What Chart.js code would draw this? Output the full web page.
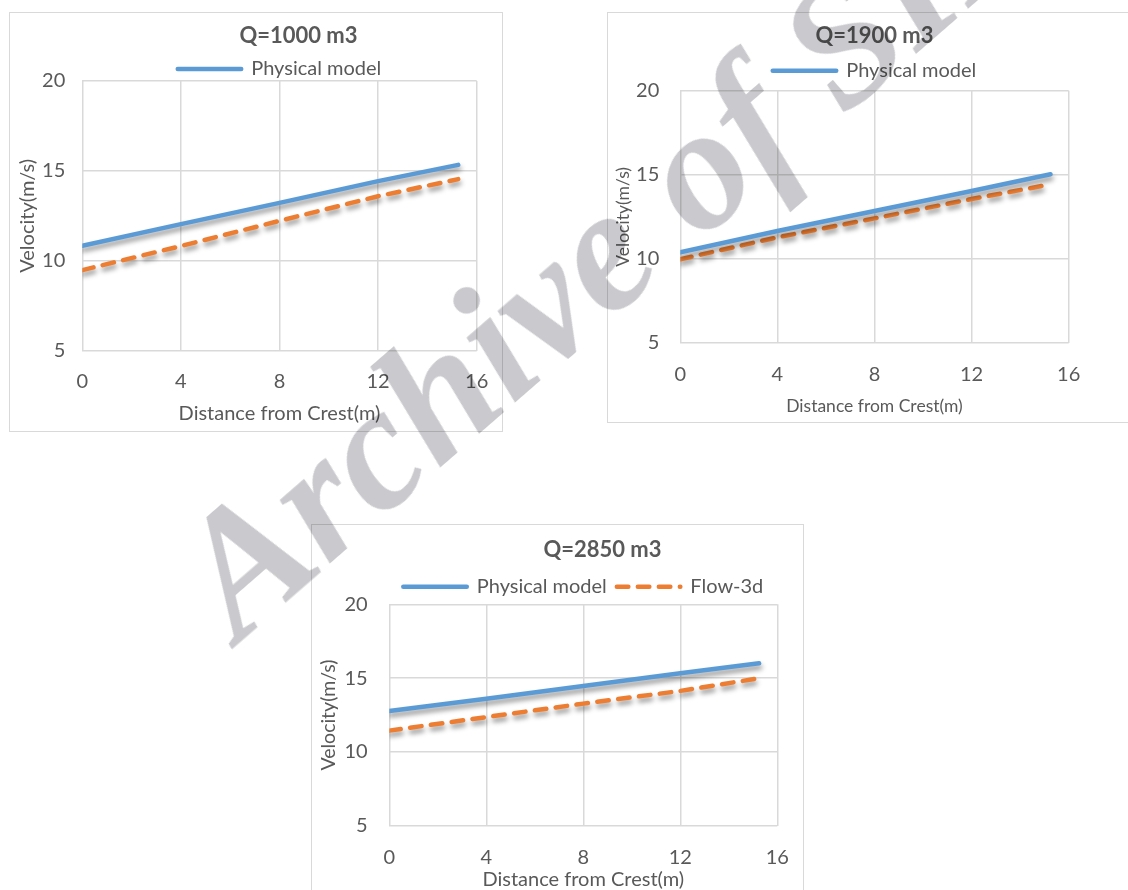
<!DOCTYPE html>
<html>
<head>
<meta charset="utf-8">
<script src="https://cdn.jsdelivr.net/npm/chart.js@4.4.1/dist/chart.umd.min.js"></script>
<style>
  html, body { margin: 0; padding: 0; background: #fff; }
  body { width: 1128px; height: 890px; overflow: hidden; position: relative; }
  .frame { position: absolute; border: 1px solid #d9d9d9; box-sizing: border-box; }
  .holder { position: absolute; }
  .holder canvas { display: block; }
  .mark {
    position: absolute; left: 142px; top: 532px;
    font: italic bold 176px "Liberation Serif", "DejaVu Serif", serif;
    line-height: 1; white-space: nowrap; color: #cacace;
    transform-origin: 0 0; transform: rotate(-41deg);
    mix-blend-mode: multiply; pointer-events: none;
  }
</style>
</head>
<body>
<div class="frame" style="left:9px;top:12px;width:494px;height:420px"></div>
<div class="frame" style="left:607px;top:12px;width:535px;height:411px"></div>
<div class="frame" style="left:311px;top:524px;width:493px;height:380px"></div>
<div class="holder" style="left:9px;top:12px"><canvas id="c1" width="579" height="420"></canvas></div>
<div class="holder" style="left:607px;top:12px"><canvas id="c2" width="535" height="411"></canvas></div>
<div class="holder" style="left:311px;top:524px"><canvas id="c3" width="583" height="380"></canvas></div>
<div class="mark">Archive of SID</div>
<script>
// Velocity along the chute, distance from the crest in metres
const distance = [0, 4, 8, 12, 15.25];

const physical1000 = [10.83, 12.04, 13.22, 14.43, 15.33];
const flow1000     = [9.48, 10.82, 12.22, 13.59, 14.54];

const physical1900 = [10.39, 11.66, 12.85, 14.04, 15.03];
const flow1900     = [9.98, 11.28, 12.41, 13.56, 14.43];

const physical2850 = [12.77, 13.60, 14.46, 15.33, 16.00];
const flow2850     = [11.44, 12.36, 13.27, 14.13, 14.99];

const xTicks = [0, 4, 8, 12, 16];
const yTicks = [5, 10, 15, 20];

const titles = ['Q=1000 m3', 'Q=1900 m3', 'Q=2850 m3'];
const seriesNames = ['Physical model', 'Flow-3d'];
const xAxisTitle = 'Distance from Crest(m)';
const yAxisTitle = 'Velocity(m/s)';

const BLUE = '#5b9bd5';
const ORANGE = '#ed7d31';
const TEXT = '#595959';
const GRID = '#d9d9d9';
const FONT = 'Lato, "Open Sans", sans-serif';
const DASH = [11.5, 9.5];

// soft drop shadow under each series line
const lineShadow = {
  id: 'lineShadow',
  beforeDatasetDraw(chart) {
    const c = chart.ctx;
    c.save();
    c.shadowColor = 'rgba(0,0,0,0.42)';
    c.shadowBlur = 5;
    c.shadowOffsetX = 1;
    c.shadowOffsetY = 4;
  },
  afterDatasetDraw(chart) { chart.ctx.restore(); }
};

function pts(values) {
  return values.map((v, i) => ({ x: distance[i], y: v }));
}

// legend entries drawn as short strokes in the series' own line style
function lineLabels(chart) {
  const items = Chart.defaults.plugins.legend.labels.generateLabels(chart);
  return items.map((it) => {
    const ds = chart.data.datasets[it.datasetIndex];
    return Object.assign(it, {
      pointStyle: 'line', strokeStyle: ds.borderColor, fillStyle: ds.borderColor,
      lineWidth: ds.borderWidth, lineCap: 'round', lineDash: ds.borderDash || [], lineDashOffset: 0
    });
  });
}

function makeChart(id, title, physical, flow, L) {
  const datasets = [
    { label: seriesNames[0], data: pts(physical), borderColor: BLUE, backgroundColor: BLUE,
      borderWidth: 4.5, borderCapStyle: 'round', pointRadius: 0, tension: 0, fill: false },
    { label: seriesNames[1], data: pts(flow), borderColor: ORANGE, backgroundColor: ORANGE,
      borderWidth: 4.5, borderCapStyle: 'round', borderDash: DASH, pointRadius: 0, tension: 0, fill: false }
  ];
  return new Chart(document.getElementById(id), {
    type: 'line',
    data: { datasets },
    plugins: [lineShadow],
    options: {
      responsive: false,
      animation: false,
      events: [],
      layout: { padding: 0 },
      plugins: {
        tooltip: { enabled: false },
        title: {
          display: true, text: title, color: TEXT,
          font: { family: FONT, size: 22, weight: 'bold' },
          padding: { top: L.titleTop, bottom: L.titleBottom }
        },
        legend: {
          display: true, position: 'top', fullSize: false,
          maxHeight: L.legendH,
          labels: {
            usePointStyle: true, pointStyle: 'line', pointStyleWidth: 63.5,
            color: TEXT, font: { family: FONT, size: 20 }, padding: 10,
            generateLabels: lineLabels,
            filter: (item) => L.showFlow || item.datasetIndex === 0
          }
        }
      },
      scales: {
        x: {
          type: 'linear', min: xTicks[0], max: xTicks[xTicks.length - 1],
          ticks: { stepSize: xTicks[1] - xTicks[0], padding: L.xTickPad, color: TEXT,
                   font: { family: FONT, size: 20 }, maxRotation: 0 },
          grid: { color: GRID, lineWidth: 1.5, drawTicks: false },
          border: { display: false },
          title: { display: true, text: xAxisTitle, color: TEXT,
                   font: { family: FONT, size: L.axisFont }, padding: { top: 0, bottom: L.xTitlePad } },
          afterFit(s) { s.height = L.xH; }
        },
        y: {
          type: 'linear', position: 'left', min: yTicks[0], max: yTicks[yTicks.length - 1],
          ticks: { stepSize: yTicks[1] - yTicks[0], padding: L.yTickPad, color: TEXT,
                   font: { family: FONT, size: 20 } },
          grid: { color: GRID, lineWidth: 1.5, drawTicks: false },
          border: { display: false },
          title: { display: true, text: yAxisTitle, color: TEXT,
                   font: { family: FONT, size: L.yAxisFont }, padding: { top: L.yTitlePad, bottom: 0 } },
          afterFit(s) { s.width = L.yW; }
        },
        side: {
          type: 'linear', position: 'right', display: true, min: yTicks[0], max: yTicks[yTicks.length - 1],
          ticks: { display: false }, grid: { display: false, drawOnChartArea: false, drawTicks: false },
          border: { display: false },
          afterFit(s) { s.width = L.rightW; }
        }
      }
    }
  });
}

makeChart('c1', titles[0], physical1000, flow1000, {
  titleTop: 10.5, titleBottom: 0, legendH: 32, showFlow: false,
  xTickPad: 19, xTitlePad: 6.7, xH: 81.3, axisFont: 20,
  yTickPad: 17, yTitlePad: 7, yW: 73.3, yAxisFont: 20, rightW: 111.3
});
makeChart('c2', titles[1], physical1900, flow1900, {
  titleTop: 10.5, titleBottom: 1.8, legendH: 40, showFlow: false,
  xTickPad: 20, xTitlePad: 5.8, xH: 80, axisFont: 17.5,
  yTickPad: 21, yTitlePad: 5.5, yW: 73.3, yAxisFont: 17.5, rightW: 73.3
});
makeChart('c3', titles[2], physical2850, flow2850, {
  titleTop: 12.8, titleBottom: 3.5, legendH: 37.6, showFlow: true,
  xTickPad: 20, xTitlePad: 12, xH: 78.3, axisFont: 20,
  yTickPad: 21.6, yTitlePad: 5.6, yW: 78.3, yAxisFont: 19.5, rightW: 116.7
});
</script>
</body>
</html>
